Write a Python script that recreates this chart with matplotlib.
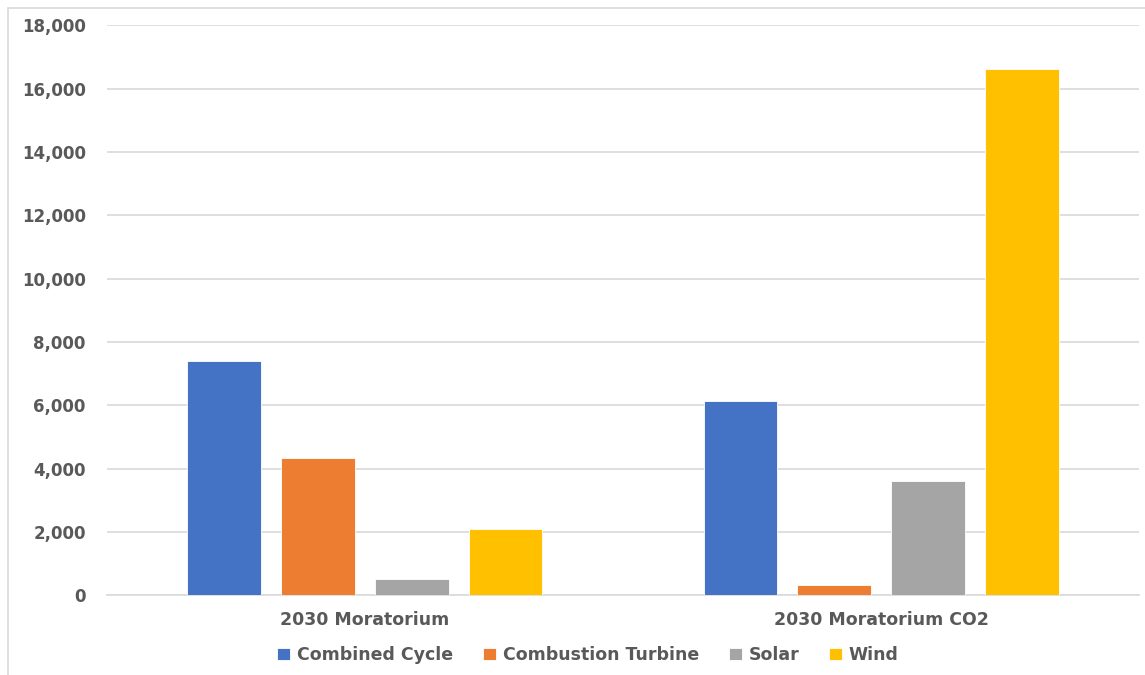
import matplotlib.pyplot as plt
from matplotlib.patches import Rectangle
from matplotlib.ticker import FuncFormatter
import numpy as np

scenarios = ["2030 Moratorium", "2030 Moratorium CO2"]
technologies = ["Combined Cycle", "Combustion Turbine", "Solar", "Wind"]
combined_cycle = [7400, 6150]
combustion_turbine = [4320, 320]
solar = [505, 3620]
wind = [2100, 16620]

colors = ["#4472C4", "#ED7D31", "#A5A5A5", "#FFC000"]
text_color = "#595959"

plt.rcParams["font.family"] = ["DejaVu Sans"]

fig = plt.figure(figsize=(11.45, 6.75), dpi=100)
ax = fig.add_axes([106.7 / 1145, 1 - 595.3 / 675, 1032.6 / 1145, 570 / 675])

x = np.arange(len(scenarios))
width = 0.1427
step = 0.1815
series = [combined_cycle, combustion_turbine, solar, wind]
for i, (name, vals) in enumerate(zip(technologies, series)):
    offset = (i - 1.5) * step
    ax.bar(x + offset, vals, width, color=colors[i], label=name,
           edgecolor="white", linewidth=0.6, zorder=3)

ax.set_xlim(-0.5, 1.5)
ax.set_ylim(0, 18000)
ax.set_yticks(np.arange(0, 18001, 2000))
ax.yaxis.set_major_formatter(FuncFormatter(lambda v, p: f"{int(v):,}"))
ax.grid(axis="y", color="#D9D9D9", linewidth=1.2, zorder=0)
for side in ["top", "right", "left"]:
    ax.spines[side].set_visible(False)
ax.spines["bottom"].set_color("#D9D9D9")
ax.spines["bottom"].set_linewidth(1.2)
ax.tick_params(axis="y", length=0, pad=15, labelsize=12, labelcolor=text_color)
ax.tick_params(axis="x", length=0, pad=11, labelsize=12.5, labelcolor=text_color)
ax.set_xticks(x)
ax.set_xticklabels(scenarios)
for lbl in ax.get_xticklabels() + ax.get_yticklabels():
    lbl.set_fontweight("bold")

leg = fig.legend(loc="center", bbox_to_anchor=(588 / 1145, 1 - 655 / 675), ncol=4,
                 frameon=False, handlelength=0.75, handleheight=0.75,
                 handletextpad=0.4, columnspacing=1.7,
                 prop={"size": 12.5, "weight": "bold"})
for t in leg.get_texts():
    t.set_color(text_color)

# chart area border
fig.patches.append(Rectangle((7.5 / 1145, -0.1), 1.2, 1 - 8 / 675 + 0.1,
                             transform=fig.transFigure, fill=False,
                             edgecolor="#D9D9D9", linewidth=1.2))

fig.savefig("out.png", dpi=100, facecolor="white")
